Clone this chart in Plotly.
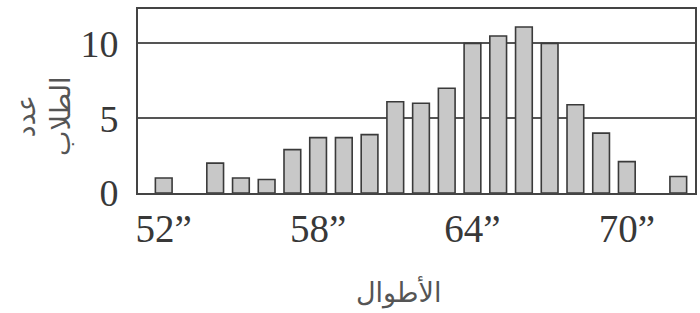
import plotly.graph_objects as go

heights = [52, 54, 55, 56, 57, 58, 59, 60, 61, 62, 63, 64, 65, 66, 67, 68, 69, 70, 72]
counts = [1.0, 2.0, 1.0, 0.9, 2.9, 3.7, 3.7, 3.9, 6.1, 6.0, 7.0, 10.0, 10.5, 11.1, 10.0, 5.9, 4.0, 2.1, 1.1]
x_tick_vals = [52, 58, 64, 70]
x_tick_text = ["52”", "58”", "64”", "70”"]
y_tick_vals = [0, 5, 10]
y_tick_text = ["0", "5", "10"]
x_title = "الأطوال"
y_title = "عدد<br>الطلاب"

fig = go.Figure()
fig.add_trace(go.Bar(
    x=heights, y=counts, width=0.65,
    marker=dict(color="#c8c8c8", line=dict(color="#3a3a3a", width=1.6)),
    hoverinfo="skip",
))

fig.update_layout(
    width=700, height=313,
    margin=dict(l=138, r=5, t=9, b=120, autoexpand=False),
    paper_bgcolor="white", plot_bgcolor="white",
    showlegend=False,
    font=dict(family="Liberation Serif", size=38, color="#333"),
)
fig.update_xaxes(
    range=[51.0, 72.65], tickvals=x_tick_vals, ticktext=x_tick_text,
    showgrid=False, zeroline=False, ticks="",
    showline=True, linecolor="#444", linewidth=2, mirror=True,
    ticklabelstandoff=0, automargin=False,
    tickfont=dict(family="Liberation Serif", size=39, color="#383838"),
)
fig.update_yaxes(
    range=[0, 12.3], tickvals=y_tick_vals, ticktext=y_tick_text,
    showgrid=True, gridcolor="#555", gridwidth=2, zeroline=False, ticks="",
    showline=True, linecolor="#444", linewidth=2, mirror=True,
    ticklabelstandoff=10, automargin=False,
    tickfont=dict(family="Liberation Serif", size=38, color="#383838"),
)
fig.add_annotation(
    text=x_title, xref="paper", yref="paper", x=(398 - 138) / 557, y=-(292 - 193) / 184,
    showarrow=False, font=dict(family="DejaVu Sans", size=27, color="#555"),
    xanchor="center", yanchor="middle",
)
fig.add_annotation(
    text=y_title, xref="paper", yref="paper", x=-(138 - 43) / 557, y=(193 - 117) / 184,
    showarrow=False, textangle=-90, font=dict(family="DejaVu Sans", size=27, color="#555"),
    xanchor="center", yanchor="middle",
)
fig.write_html("out.html", post_script="document.body.style.margin='0';",
               config={"displayModeBar": False})
